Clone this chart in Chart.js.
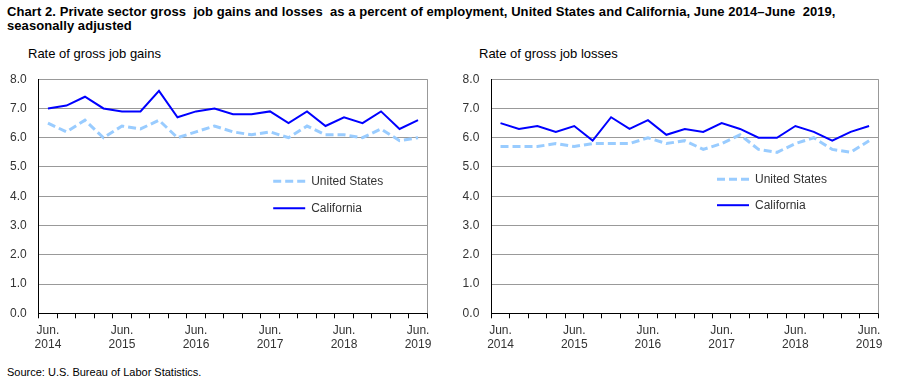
<!DOCTYPE html>
<html>
<head>
<meta charset="utf-8">
<script src="https://cdn.jsdelivr.net/npm/chart.js@4/dist/chart.umd.min.js"></script>
<style>
    body { margin: 0; background: #fff; font-family: "Liberation Sans", Arial, sans-serif; }
    #page { position: relative; width: 901px; height: 385px; overflow: hidden; }
    .title { position: absolute; left: 7px; top: 5px; font-weight: bold; font-size: 13px; line-height: 14px; letter-spacing: 0.07px; color: #000; white-space: pre; }
    .axis-title { position: absolute; font-size: 13px; color: #000; white-space: pre; }
    .source { position: absolute; left: 7px; top: 366px; font-size: 11px; color: #000; }
    .slot { position: absolute; top: 60px; height: 300px; }
</style>
</head>
<body>
<div id="page">
    <div class="title">Chart 2. Private sector gross  job gains and losses  as a percent of employment, United States and California, June 2014–June  2019,
seasonally adjusted</div>
    <div class="axis-title" style="left:28px; top:46px;">Rate of gross job gains</div>
    <div class="axis-title" style="left:479px; top:46px;">Rate of gross job losses</div>
    <div class="slot" style="left:0; width:450px;"><canvas id="gains" width="450" height="300"></canvas></div>
    <div class="slot" style="left:450px; width:451px;"><canvas id="losses" width="451" height="300"></canvas></div>
    <div class="source">Source: U.S. Bureau of Labor Statistics.</div>
</div>
<script>
// quarterly, June 2014 - June 2019
const quarters = [
    "Jun. 2014", "Sep. 2014", "Dec. 2014", "Mar. 2015",
    "Jun. 2015", "Sep. 2015", "Dec. 2015", "Mar. 2016",
    "Jun. 2016", "Sep. 2016", "Dec. 2016", "Mar. 2017",
    "Jun. 2017", "Sep. 2017", "Dec. 2017", "Mar. 2018",
    "Jun. 2018", "Sep. 2018", "Dec. 2018", "Mar. 2019",
    "Jun. 2019"
]
const yTicks = [0, 1, 2, 3, 4, 5, 6, 7, 8]

const gainsUS = [6.5, 6.2, 6.6, 6.0, 6.4, 6.3, 6.6, 6.0, 6.2, 6.4, 6.2, 6.1, 6.2, 6.0, 6.4, 6.1, 6.1, 6.0, 6.3, 5.9, 6.0]
const gainsCA = [7.0, 7.1, 7.4, 7.0, 6.9, 6.9, 7.6, 6.7, 6.9, 7.0, 6.8, 6.8, 6.9, 6.5, 6.9, 6.4, 6.7, 6.5, 6.9, 6.3, 6.6]
const lossesUS = [5.7, 5.7, 5.7, 5.8, 5.7, 5.8, 5.8, 5.8, 6.0, 5.8, 5.9, 5.6, 5.8, 6.1, 5.6, 5.5, 5.8, 6.0, 5.6, 5.5, 5.9]
const lossesCA = [6.5, 6.3, 6.4, 6.2, 6.4, 5.9, 6.7, 6.3, 6.6, 6.1, 6.3, 6.2, 6.5, 6.3, 6.0, 6.0, 6.4, 6.2, 5.9, 6.2, 6.4]

const FONT = "Liberation Sans, Arial, sans-serif"
const US_COLOR = "#99ccff"
const CA_COLOR = "#0000ff"

// frame + legend drawn inside the plot area
const framePlugin = {
    id: "frame",
    afterDatasetsDraw(chart, args, opts) {
        const ctx = chart.ctx
        const a = chart.chartArea
        ctx.save()
        ctx.strokeStyle = "#999"
        ctx.lineWidth = 1
        ctx.beginPath()
        ctx.moveTo(Math.round(a.right) + 0.5, a.top)
        ctx.lineTo(Math.round(a.right) + 0.5, a.bottom)
        ctx.stroke()

        let x = a.left + opts.x
        let y = a.top + opts.y
        chart.data.datasets.forEach((ds, i) => {
            let yy = y + i * opts.gap
            ctx.strokeStyle = ds.borderColor
            ctx.lineWidth = ds.borderWidth
            ctx.setLineDash(ds.borderDash || [])
            ctx.beginPath()
            ctx.moveTo(x, yy)
            ctx.lineTo(x + 32, yy)
            ctx.stroke()
            ctx.setLineDash([])
            ctx.fillStyle = "#333"
            ctx.font = "12px " + FONT
            ctx.textBaseline = "middle"
            ctx.fillText(ds.label, x + 38, yy)
        })
        ctx.restore()
    }
}

function makeChart(id, us, ca, yWidth, padRight, legend) {
    return new Chart(document.getElementById(id), {
        type: "line",
        data: {
            labels: quarters,
            datasets: [
                { label: "United States", data: us, borderColor: US_COLOR, borderWidth: 3, borderDash: [8, 4], pointRadius: 0, tension: 0 },
                { label: "California", data: ca, borderColor: CA_COLOR, borderWidth: 2, pointRadius: 0, tension: 0 }
            ]
        },
        options: {
            responsive: false,
            animation: false,
            layout: { padding: { top: 14, right: padRight, left: 0, bottom: 0 } },
            plugins: {
                legend: { display: false },
                tooltip: { enabled: false },
                frame: legend
            },
            scales: {
                x: {
                    offset: true,
                    grid: { offset: true, drawOnChartArea: false, drawTicks: true, tickLength: 5, color: "#000" },
                    border: { color: "#000", width: 1 },
                    ticks: {
                        autoSkip: false,
                        maxRotation: 0,
                        padding: 5,
                        color: "#333",
                        font: { family: FONT, size: 12 },
                        callback: (v, i) => i % 4 === 0 ? quarters[i].split(" ") : ""
                    },
                    afterFit: s => { s.height = 46.7 }
                },
                y: {
                    min: 0,
                    max: 8,
                    afterBuildTicks: s => { s.ticks = yTicks.map(v => ({ value: v })) },
                    grid: { color: "#999", drawTicks: false },
                    border: { color: "#000", width: 1 },
                    ticks: {
                        padding: 12,
                        color: "#333",
                        font: { family: FONT, size: 12 },
                        callback: v => v.toFixed(1)
                    },
                    afterFit: s => { s.width = yWidth }
                }
            }
        },
        plugins: [framePlugin]
    })
}

window.onload = () => {
    makeChart("gains", gainsUS, gainsCA, 38.7, 22.7, { x: 234.5, y: 102, gap: 27 })
    makeChart("losses", lossesUS, lossesCA, 41.3, 22.7, { x: 225.7, y: 100, gap: 26 })
}
</script>
</body>
</html>
